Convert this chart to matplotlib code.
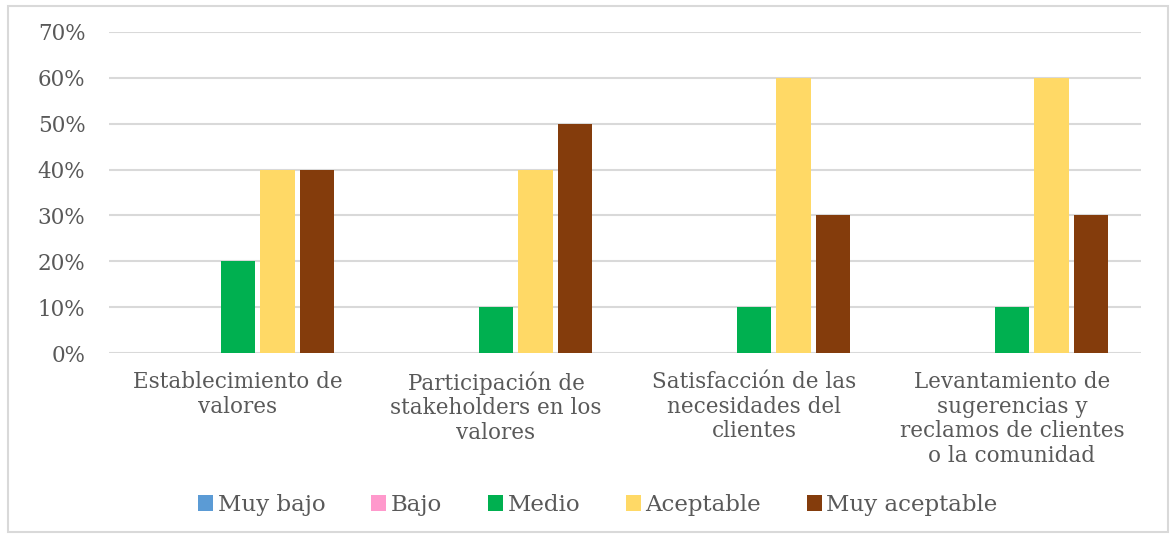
import numpy as np
import matplotlib.pyplot as plt
from matplotlib.patches import Rectangle
from matplotlib.ticker import PercentFormatter

plt.rcParams['font.family'] = ['DejaVu Serif']

categorias = ['Establecimiento de\nvalores',
              'Participación de\nstakeholders en los\nvalores',
              'Satisfacción de las\nnecesidades del\nclientes',
              'Levantamiento de\nsugerencias y\nreclamos de clientes\no la comunidad']
series = ['Muy bajo', 'Bajo', 'Medio', 'Aceptable', 'Muy aceptable']
muy_bajo = [0.0, 0.0, 0.0, 0.0]
bajo = [0.0, 0.0, 0.0, 0.0]
medio = [0.20, 0.10, 0.10, 0.10]
aceptable = [0.40, 0.40, 0.60, 0.60]
muy_aceptable = [0.40, 0.50, 0.30, 0.30]
colores = ['#5B9BD5', '#FF99CC', '#00B050', '#FFD966', '#843C0C']

valores = [muy_bajo, bajo, medio, aceptable, muy_aceptable]

fig = plt.figure(figsize=(11.76, 5.36), dpi=100)
ax = fig.add_axes([109 / 1176, 1 - 353 / 536, (1141 - 109) / 1176, (353 - 32) / 536])

# marco gris del gráfico
fig.patches.append(Rectangle((8 / 1176, 4 / 536), 1160 / 1176, 526 / 536,
                             transform=fig.transFigure, fill=False,
                             edgecolor='#D9D9D9', linewidth=1.5))

x = np.arange(len(categorias))
paso = 0.153
ancho = 0.132
for i, (nombre, vals) in enumerate(zip(series, valores)):
    ax.bar(x + (i - 2) * paso, vals, ancho, color=colores[i], label=nombre, zorder=3)

ax.set_xlim(-0.5, len(categorias) - 0.5)
ax.set_ylim(0, 0.7)
ax.set_yticks(np.arange(0, 0.71, 0.1))
ax.yaxis.set_major_formatter(PercentFormatter(1.0, decimals=0))
ax.yaxis.grid(True, color='#D9D9D9', linewidth=1.5, zorder=0)
ax.set_xticks(x)
ax.set_xticklabels(categorias, fontsize=15.5, color='#595959', linespacing=1.15)
ax.tick_params(axis='y', labelsize=15.5, labelcolor='#595959', length=0, pad=17)
ax.tick_params(axis='x', length=0, pad=13)
for s in ax.spines.values():
    s.set_visible(False)

ax.legend(loc='center', bbox_to_anchor=(598 / 1176, 1 - 505 / 536),
          bbox_transform=fig.transFigure, ncol=5, frameon=False,
          fontsize=16.5, labelcolor='#595959', handlelength=0.65, handleheight=0.65,
          handletextpad=0.2, columnspacing=2.0)

fig.savefig('out.png', dpi=100)
